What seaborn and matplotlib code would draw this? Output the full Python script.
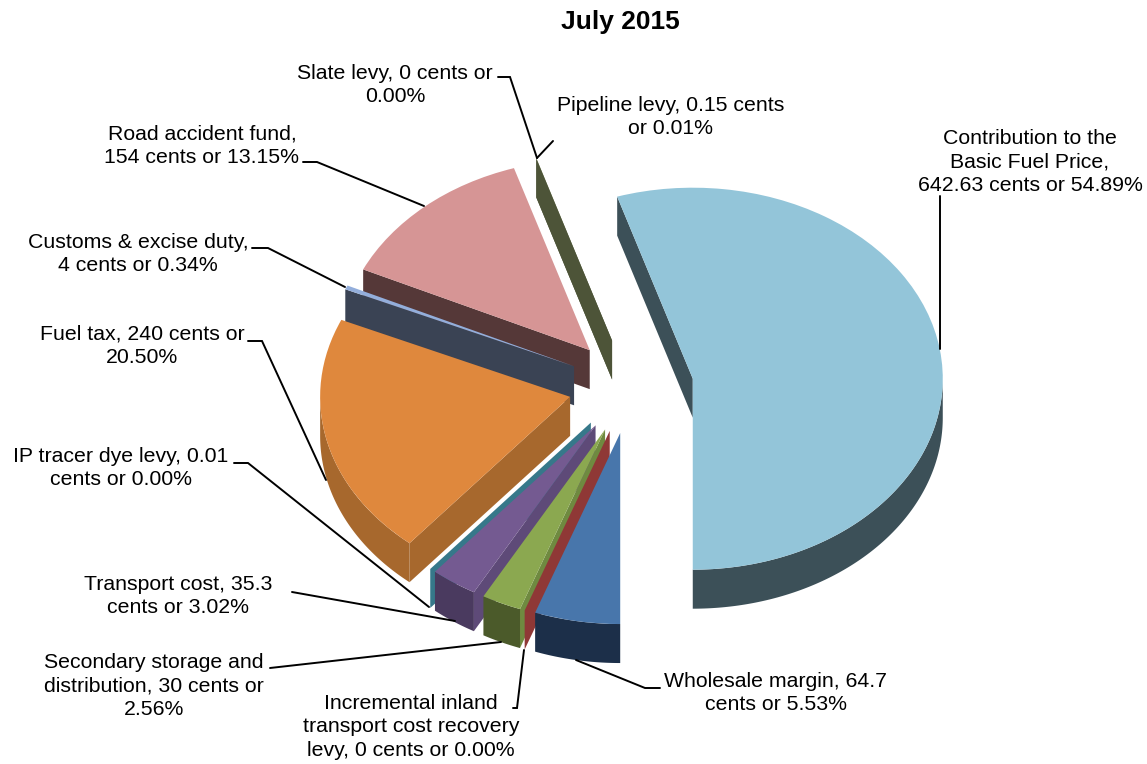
import numpy as np
import matplotlib
matplotlib.use("Agg")
import matplotlib.pyplot as plt
import seaborn as sns

sns.set_theme(style="white")
plt.rcParams['font.family'] = ['Liberation Sans', 'DejaVu Sans']

# cents per litre, clockwise from the big slice
items = ["Contribution to the Basic Fuel Price", "Wholesale margin",
         "Incremental inland transport cost recovery levy",
         "Secondary storage and distribution", "Transport cost",
         "IP tracer dye levy", "Fuel tax", "Customs & excise duty",
         "Road accident fund", "Slate levy", "Pipeline levy"]
cents = [642.63, 64.7, 0, 30, 35.3, 0.01, 240, 4, 154, 0, 0.15]

top_colors = ["#93c5d9", "#4876ab", "#aa4643", "#8ba850", "#745a91", "#3f8ea3",
              "#df883d", "#93aedb", "#d69595", "#4f81bd", "#8a9a5b"]
edge_colors = ["#3c5058", "#1c2f49", "#8f3836", "#6f8a40", "#5e4a78", "#36788a",
               "#a7682d", "#3a4354", "#553838", "#4d5438", "#4d5438"]
rim_colors = ["#3c5058", "#1c2f49", "#8f3836", "#4b5a2a", "#4a3a5f", "#36788a",
              "#a7682d", "#3a4354", "#553838", "#4d5438", "#4d5438"]

title = "July 2015"
labels = ["Contribution to the\nBasic Fuel Price,\n642.63 cents or 54.89%",
          "Wholesale margin, 64.7\ncents or 5.53%",
          "Incremental inland\ntransport cost recovery\nlevy, 0 cents or 0.00%",
          "Secondary storage and\ndistribution, 30 cents or\n2.56%",
          "Transport cost, 35.3\ncents or 3.02%",
          "IP tracer dye levy, 0.01\ncents or 0.00%",
          "Fuel tax, 240 cents or\n20.50%",
          "Customs & excise duty,\n4 cents or 0.34%",
          "Road accident fund,\n154 cents or 13.15%",
          "Slate levy, 0 cents or\n0.00%",
          "Pipeline levy, 0.15 cents\nor 0.01%"]

W, H = 1147, 764
CX, CY, RX, RY = 631, 386, 250, 191
DEPTH = 39 / RY

fig = plt.figure(figsize=(W / 100, H / 100), dpi=100)
ax = fig.add_axes([0, 0, 1, 1])

start = 360 * cents[0] / sum(cents) - 90
wedges, _ = ax.pie(cents, explode=[0.25] * len(cents), startangle=start,
                   counterclock=False, colors=sns.color_palette(top_colors),
                   wedgeprops={"linewidth": 0})
ax.set_aspect("auto")
ax.set_xlim(-CX / RX, (W - CX) / RX)
ax.set_ylim((CY - H) / RY, CY / RY)
ax.axis("off")

# side walls, back slices first so front ones paint over them
order = sorted(range(len(wedges)), key=lambda k: -wedges[k].center[1])
for z, k in enumerate(order):
    w = wedges[k]
    x0, y0 = w.center
    base = 2 * z + 2
    w.set_zorder(base + 1)
    for ang, turn in [(w.theta1, -90), (w.theta2, 90)]:
        a = np.radians(ang)
        if np.sin(a + np.radians(turn)) < 0:
            xs = [x0, x0 + w.r * np.cos(a), x0 + w.r * np.cos(a), x0]
            ys = [y0, y0 + w.r * np.sin(a), y0 + w.r * np.sin(a) - DEPTH, y0 - DEPTH]
            ax.fill(xs, ys, color=edge_colors[k], lw=0, zorder=base)
    t = np.radians(np.linspace(w.theta1, w.theta2, 300))
    t = t[np.sin(t) < 0]
    if len(t) > 1:
        xa = x0 + w.r * np.cos(t)
        ya = y0 + w.r * np.sin(t)
        ax.fill(np.r_[xa, xa[::-1]], np.r_[ya, ya[::-1] - DEPTH],
                color=rim_colors[k], lw=0, zorder=base + 0.5)

# text and leader lines sit on a pixel overlay
lay = fig.add_axes([0, 0, 1, 1], facecolor="none")
lay.set_xlim(0, W)
lay.set_ylim(H, 0)
lay.axis("off")

label_pos = [(1030, 162), (776, 693), (411, 727), (154, 686), (178, 596),
             (121, 468), (142, 346), (138, 254), (202, 146), (395, 85), (671, 117)]
leaders = [[(940, 196), (940, 349)],
           [(660, 688), (645, 688), (576, 660)],
           [(513, 708), (517, 708), (524, 650)],
           [(270, 668), (501, 642)],
           [(292, 592), (455, 621)],
           [(234, 463), (248, 463), (429, 607)],
           [(248, 341), (262, 341), (326, 480)],
           [(252, 248), (268, 248), (345, 287)],
           [(303, 162), (317, 162), (424, 206)],
           [(498, 77), (510, 77), (537, 158)],
           [(553, 141), (537, 158)]]

for txt, (x, y), seg in zip(labels, label_pos, leaders):
    lay.text(x, y, txt, ha="center", va="center", fontsize=15.3,
             color="black", linespacing=1.3)
    sx, sy = zip(*seg)
    lay.plot(sx, sy, color="black", lw=1.4, solid_joinstyle="miter")

lay.text(620, 21.5, title, ha="center", va="center", fontsize=19, fontweight="bold",
         color="black")

fig.savefig("out.png", dpi=100)
